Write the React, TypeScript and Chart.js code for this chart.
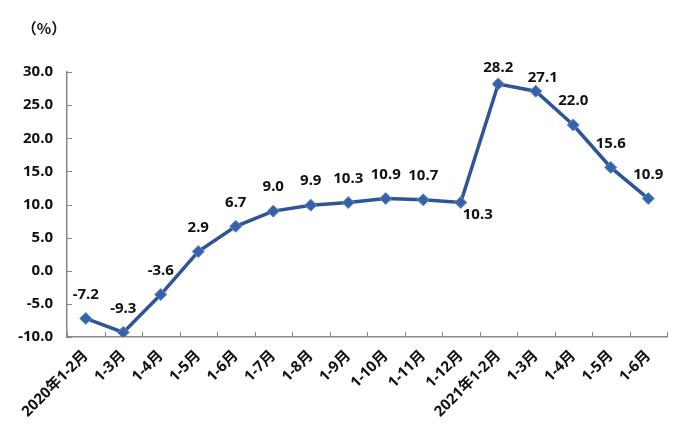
import React, { useEffect, useRef } from "react";
import { Chart, registerables } from "chart.js";

Chart.register(...registerables);

const categories = [
  "2020年1-2月", "1-3月", "1-4月", "1-5月", "1-6月", "1-7月", "1-8月", "1-9月",
  "1-10月", "1-11月", "1-12月", "2021年1-2月", "1-3月", "1-4月", "1-5月", "1-6月",
];
const growthValues = [-7.2, -9.3, -3.6, 2.9, 6.7, 9.0, 9.9, 10.3, 10.9, 10.7, 10.3, 28.2, 27.1, 22.0, 15.6, 10.9];
const unitLabel = "（%）";

// label placement (dx, dy) relative to each point; default above
const labelShift: Record<number, [number, number]> = {
  10: [17, 12],
  11: [0, -16],
  12: [7, -13],
};

const FONT = "'Noto Sans', 'Noto Sans CJK SC', sans-serif";

const overlayPlugin = {
  id: "overlay",
  afterDraw(chart: any) {
    const { ctx, chartArea, scales } = chart;
    const x = scales.x;
    const y = scales.y;
    ctx.save();
    ctx.strokeStyle = "#888888";
    ctx.lineWidth = 1;
    y.ticks.forEach((_t: any, i: number) => {
      const py = Math.round(y.getPixelForTick(i)) + 0.5;
      ctx.beginPath();
      ctx.moveTo(chartArea.left, py);
      ctx.lineTo(chartArea.left + 5, py);
      ctx.stroke();
    });
    const half = (x.getPixelForValue(1) - x.getPixelForValue(0)) / 2;
    for (let i = 0; i <= categories.length; i++) {
      const px = Math.round(x.getPixelForValue(i) - half) + 0.5;
      ctx.beginPath();
      ctx.moveTo(px, chartArea.bottom);
      ctx.lineTo(px, chartArea.bottom - 5);
      ctx.stroke();
    }
    const meta = chart.getDatasetMeta(0);
    ctx.fillStyle = "#111111";
    ctx.font = `bold 15px ${FONT}`;
    ctx.textAlign = "center";
    ctx.textBaseline = "middle";
    meta.data.forEach((pt: any, i: number) => {
      const [dx, dy] = labelShift[i] || [0, -24];
      ctx.fillText(growthValues[i].toFixed(1), pt.x + dx, pt.y + dy);
    });
    ctx.font = `bold 15px 'Noto Sans CJK SC', sans-serif`;
    ctx.fillText(unitLabel, 44, 28);
    ctx.restore();
  },
};

export default function App() {
  const ref = useRef<HTMLCanvasElement | null>(null);
  useEffect(() => {
    document.body.style.margin = "0";
    if (!ref.current) return;
    const chart = new Chart(ref.current, {
      type: "line",
      data: {
        labels: categories,
        datasets: [
          {
            data: growthValues,
            borderColor: "#2E5597",
            borderWidth: 3.5,
            pointStyle: "rectRot",
            pointRadius: 6,
            pointBackgroundColor: "#3862A8",
            pointBorderColor: "#5B8AD0",
            pointBorderWidth: 1,
            tension: 0,
            fill: false,
          },
        ],
      },
      options: {
        responsive: false,
        animation: false,
        layout: { padding: { top: 72, right: 17, left: 0, bottom: 0 } },
        plugins: { legend: { display: false }, tooltip: { enabled: false } },
        scales: {
          x: {
            offset: true,
            grid: { drawOnChartArea: false, drawTicks: false },
            border: { display: true, color: "#888888", width: 1.5 },
            ticks: {
              minRotation: 45,
              maxRotation: 45,
              padding: 10,
              color: "#111111",
              font: { family: FONT, size: 15, weight: "bold" },
              autoSkip: false,
            },
            afterFit(scale: any) {
              scale.height = 111;
            },
          },
          y: {
            min: -10,
            max: 30,
            grid: { drawOnChartArea: false, drawTicks: false },
            border: { display: true, color: "#888888", width: 1.5 },
            ticks: {
              stepSize: 5,
              padding: 14,
              color: "#111111",
              font: { family: FONT, size: 15, weight: "bold" },
              callback: (v: any) => Number(v).toFixed(1),
            },
            afterFit(scale: any) {
              scale.width = 67;
            },
          },
        },
      },
      plugins: [overlayPlugin],
    });
    return () => chart.destroy();
  }, []);
  return (
    <div style={{ width: 684, height: 448 }}>
      <canvas ref={ref} width={684} height={448} />
    </div>
  );
}
